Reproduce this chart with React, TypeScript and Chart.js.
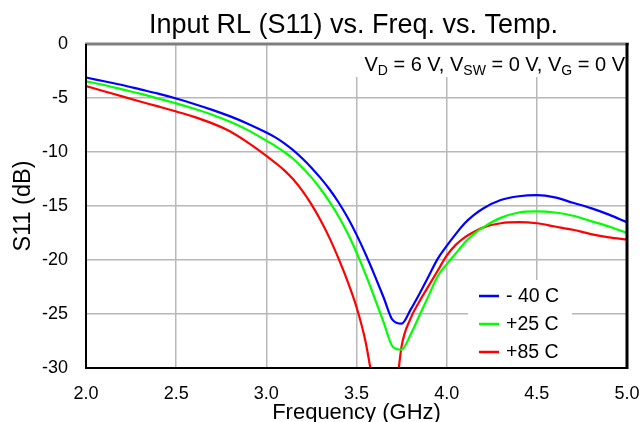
import React, { useEffect, useRef } from 'react';
import { Chart, registerables } from 'chart.js';

Chart.register(...registerables);

// ---- Data ----
const FREQ_GHZ = [
  2.0, 2.1, 2.2, 2.3, 2.4, 2.5, 2.6, 2.7, 2.8, 2.9,
  3.0, 3.05, 3.1, 3.15, 3.2, 3.25, 3.3, 3.35, 3.4, 3.45, 3.5, 3.55, 3.6, 3.65,
  3.7, 3.75, 3.8, 3.85, 3.9, 3.95, 4.0, 4.05, 4.1, 4.15, 4.2,
  4.3, 4.4, 4.5, 4.6, 4.7, 4.8, 4.9, 5.0,
];

const S11_M40C = [
  -3.1, -3.45, -3.8, -4.2, -4.6, -5.05, -5.55, -6.1, -6.7, -7.4,
  -8.2, -8.65, -9.2, -9.85, -10.6, -11.45, -12.4, -13.45, -14.65, -16.05, -17.65, -19.45, -21.4, -23.45,
  -25.55, -25.9, -24.6, -23.1, -21.5, -19.9, -18.7, -17.6, -16.6, -15.85, -15.25,
  -14.45, -14.1, -14.0, -14.2, -14.7, -15.2, -15.8, -16.5,
];

const S11_P25C = [
  -3.45, -3.8, -4.2, -4.6, -5.05, -5.5, -6.0, -6.55, -7.2, -8.0,
  -8.95, -9.45, -10.0, -10.65, -11.45, -12.35, -13.4, -14.6, -15.95, -17.5, -19.3, -21.3, -23.5, -25.75,
  -28.0, -28.3, -26.9, -25.1, -23.3, -21.5, -20.4, -19.4, -18.4, -17.6, -17.0,
  -16.1, -15.6, -15.5, -15.6, -15.9, -16.4, -16.9, -17.5,
];

const S11_P85C = [
  -3.9, -4.37, -4.85, -5.32, -5.78, -6.25, -6.75, -7.35, -8.1, -9.15,
  -10.35, -11.0, -11.7, -12.55, -13.6, -14.85, -16.3, -17.95, -19.85, -21.95, -24.35, -27.55, -32.3, -37.0,
  -35.0, -28.0, -25.4, -23.8, -22.4, -21.0, -19.6, -18.6, -17.9, -17.4, -17.0,
  -16.6, -16.5, -16.6, -16.9, -17.2, -17.6, -17.9, -18.1,
];

const SERIES_LABELS = ['- 40 C', '+25 C', '+85 C'];
const SERIES_COLORS = ['#0000ff', '#00ff00', '#ff0000'];

const X_MIN = 2.0;
const X_MAX = 5.0;
const X_STEP = 0.5;
const Y_MIN = -30;
const Y_MAX = 0;
const Y_STEP = 5;

const TITLE = 'Input RL (S11) vs. Freq. vs. Temp.';
const X_TITLE = 'Frequency (GHz)';
const Y_TITLE = 'S11 (dB)';
const CONDITION_PARTS = [
  { t: 'V', sub: false },
  { t: 'D', sub: true },
  { t: ' = 6 V, ', sub: false },
  { t: 'V', sub: false },
  { t: 'SW', sub: true },
  { t: ' = 0 V, ', sub: false },
  { t: 'V', sub: false },
  { t: 'G', sub: true },
  { t: ' = 0 V', sub: false },
];

const FONT = "'Liberation Sans', Arial, Helvetica, sans-serif";

const toPoints = (ys: number[]) => FREQ_GHZ.map((x, i) => ({ x, y: ys[i] }));

const decorPlugin = {
  id: 'decor',
  beforeDatasetsDraw(chart: any) {
    const { ctx, chartArea: a } = chart;
    ctx.save();
    ctx.fillStyle = '#ffffff';
    // condition box (top right)
    ctx.fillRect(a.right - 277, a.top, 277, 33);
    // legend box (bottom right)
    ctx.fillRect(a.right - 159, a.bottom - 88, 104, 88);
    ctx.restore();
  },
  afterDatasetsDraw(chart: any) {
    const { ctx, chartArea: a } = chart;
    ctx.save();
    // frame
    ctx.lineCap = 'butt';
    ctx.strokeStyle = '#7f7f7f';
    ctx.lineWidth = 3;
    ctx.beginPath();
    ctx.moveTo(a.left - 1, a.top);
    ctx.lineTo(a.right + 2, a.top);
    ctx.stroke();
    ctx.strokeStyle = '#000000';
    ctx.lineWidth = 2;
    ctx.beginPath();
    ctx.moveTo(a.left, a.top);
    ctx.lineTo(a.left, a.bottom);
    ctx.lineTo(a.right, a.bottom);
    ctx.stroke();
    ctx.lineWidth = 3;
    ctx.beginPath();
    ctx.moveTo(a.right, a.top - 1);
    ctx.lineTo(a.right, a.bottom + 1);
    ctx.stroke();

    // condition text with subscripts, right aligned
    ctx.fillStyle = '#000000';
    ctx.textBaseline = 'alphabetic';
    ctx.textAlign = 'left';
    const mainFont = `20px ${FONT}`;
    const subFont = `14px ${FONT}`;
    let total = 0;
    for (const p of CONDITION_PARTS) {
      ctx.font = p.sub ? subFont : mainFont;
      total += ctx.measureText(p.t).width;
    }
    let x = a.right - 2 - total;
    const base = a.top + 26.7;
    for (const p of CONDITION_PARTS) {
      ctx.font = p.sub ? subFont : mainFont;
      ctx.fillText(p.t, x, p.sub ? base + 4 : base);
      x += ctx.measureText(p.t).width;
    }

    // legend
    const lx = a.right - 159;
    const rowY0 = a.bottom - 72;
    ctx.font = `19.5px ${FONT}`;
    ctx.textBaseline = 'middle';
    chart.data.datasets.forEach((ds: any, i: number) => {
      const y = rowY0 + i * 28;
      ctx.strokeStyle = ds.borderColor;
      ctx.lineWidth = 2.5;
      ctx.beginPath();
      ctx.moveTo(lx + 11, y);
      ctx.lineTo(lx + 31, y);
      ctx.stroke();
      ctx.fillStyle = '#000000';
      ctx.fillText(ds.label, lx + 38, y + 1);
    });
    ctx.restore();
  },
  afterDraw(chart: any) {
    const { ctx, chartArea: a } = chart;
    const cx = (a.left + a.right) / 2;
    ctx.save();
    ctx.fillStyle = '#000000';
    ctx.textBaseline = 'alphabetic';
    ctx.textAlign = 'center';
    ctx.font = `27px ${FONT}`;
    ctx.fillText(TITLE, cx - 3, 32.5);
    ctx.font = `22px ${FONT}`;
    ctx.fillText(X_TITLE, cx, a.bottom + 51);
    ctx.translate(30, (a.top + a.bottom) / 2);
    ctx.rotate(-Math.PI / 2);
    ctx.font = `23.5px ${FONT}`;
    ctx.fillText(Y_TITLE, 0, 0);
    ctx.restore();
  },
};

export default function App() {
  const canvasRef = useRef<HTMLCanvasElement | null>(null);

  useEffect(() => {
    if (!canvasRef.current) return;
    const datasets = [S11_M40C, S11_P25C, S11_P85C].map((ys, i) => ({
      label: SERIES_LABELS[i],
      data: toPoints(ys),
      borderColor: SERIES_COLORS[i],
      backgroundColor: SERIES_COLORS[i],
      borderWidth: 2.2,
      pointRadius: 0,
      cubicInterpolationMode: 'monotone',
      fill: false,
    }));
    const chart = new Chart(canvasRef.current, {
      type: 'line',
      data: { datasets },
      plugins: [decorPlugin],
      options: {
        animation: false,
        responsive: false,
        devicePixelRatio: 1,
        layout: { padding: { top: 44, right: 15, left: 0, bottom: 0 } },
        plugins: {
          legend: { display: false },
          title: { display: false },
          tooltip: { enabled: false },
        },
        scales: {
          x: {
            type: 'linear',
            min: X_MIN,
            max: X_MAX,
            afterFit: (s: any) => {
              s.height = 54;
              s.paddingLeft = 0;
              s.paddingRight = 0;
            },
            ticks: {
              stepSize: X_STEP,
              autoSkip: false,
              maxRotation: 0,
              padding: 15,
              color: '#000000',
              font: { family: FONT, size: 18 },
              callback: (v: any) => Number(v).toFixed(1),
            },
            grid: { color: '#b8b8b8', lineWidth: 1.5, drawTicks: false },
            border: { display: false },
          },
          y: {
            type: 'linear',
            min: Y_MIN,
            max: Y_MAX,
            afterFit: (s: any) => {
              s.width = 86;
              s.paddingTop = 0;
              s.paddingBottom = 0;
            },
            ticks: {
              stepSize: Y_STEP,
              autoSkip: false,
              padding: 18,
              color: '#000000',
              font: { family: FONT, size: 18 },
            },
            grid: { color: '#b8b8b8', lineWidth: 1.5, drawTicks: false },
            border: { display: false },
          },
        },
      },
    } as any);
    return () => chart.destroy();
  }, []);

  return (
    <div style={{ position: 'absolute', left: 0, top: 0, width: 642, height: 422, background: '#ffffff' }}>
      <canvas ref={canvasRef} width={642} height={422} style={{ display: 'block' }} />
    </div>
  );
}
